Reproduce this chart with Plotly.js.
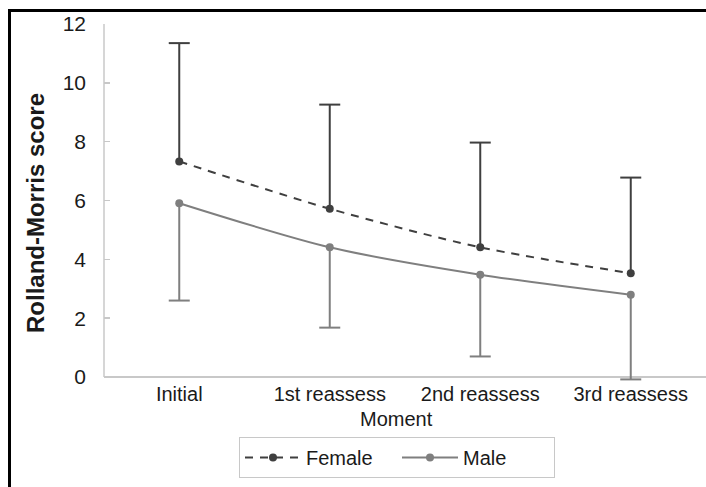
<!DOCTYPE html>
<html>
<head>
<meta charset="utf-8">
<script src="https://cdn.plot.ly/plotly-3.0.1.min.js"></script>
<style>
html,body{margin:0;padding:0;background:#fff;}
#wrap{position:relative;width:706px;height:487px;overflow:hidden;}
#chart{position:absolute;left:0;top:0;width:706px;height:487px;}
#frame{position:absolute;left:8px;top:9px;width:720px;height:500px;border-top:3px solid #000;border-left:3px solid #000;pointer-events:none;}
</style>
</head>
<body>
<div id="wrap"><div id="chart"></div><div id="frame"></div></div>
<script>
const moments = ["Initial", "1st reassess", "2nd reassess", "3rd reassess"];
const femaleMean = [7.33, 5.72, 4.41, 3.53];
const femaleErrUp = [4.02, 3.54, 3.56, 3.25];
const maleMean = [5.91, 4.41, 3.48, 2.80];
const maleErrDown = [3.31, 2.73, 2.78, 2.88];
const yTicks = [0, 2, 4, 6, 8, 10, 12];

const femaleColor = "#3f3f3f";
const maleColor = "#7f7f7f";
const axisColor = "#c8c8c8";
const font = "Liberation Sans, Arial, sans-serif";

const zeros = moments.map(() => 0);
const yMin = -0.1, yMax = 12;

const traces = [
  {
    x: moments, y: femaleMean, name: "Female", type: "scatter", mode: "lines+markers",
    line: {color: femaleColor, width: 2, dash: "8px,7px", shape: "spline", smoothing: 0.8},
    marker: {color: femaleColor, size: 8},
    error_y: {type: "data", symmetric: false, array: femaleErrUp, arrayminus: zeros,
              color: femaleColor, thickness: 2, width: 0},
    cliponaxis: false
  },
  {
    x: moments, y: maleMean, name: "Male", type: "scatter", mode: "lines+markers",
    line: {color: maleColor, width: 2, shape: "spline", smoothing: 0.8},
    marker: {color: maleColor, size: 8},
    error_y: {type: "data", symmetric: false, array: zeros, arrayminus: maleErrDown,
              color: maleColor, thickness: 2, width: 0},
    cliponaxis: false
  },
  {
    x: moments, y: femaleMean.map((v, i) => v + femaleErrUp[i]), type: "scatter", mode: "markers",
    marker: {symbol: "line-ew-open", size: 15, color: femaleColor, line: {color: femaleColor, width: 2}},
    showlegend: false, hoverinfo: "skip", cliponaxis: false
  },
  {
    x: moments, y: maleMean.map((v, i) => v - maleErrDown[i]), type: "scatter", mode: "markers",
    marker: {symbol: "line-ew-open", size: 15, color: maleColor, line: {color: maleColor, width: 2}},
    showlegend: false, hoverinfo: "skip", cliponaxis: false
  }
];

const pxPerUnit = 353 / 12;
const plotH = (yMax - yMin) * pxPerUnit;
const topM = 24;
const botM = 487 - topM - plotH;

function py(pix) { return (topM + plotH - pix) / plotH; }

const layout = {
  width: 706, height: 487,
  margin: {l: 104, r: 0, t: topM, b: botM},
  paper_bgcolor: "#fff", plot_bgcolor: "#fff",
  font: {family: font, size: 20, color: "#1a1a1a"},
  showlegend: true,
  legend: {
    orientation: "h", x: (239 - 104) / 602, xanchor: "left", y: py(437), yanchor: "top",
    bordercolor: axisColor, borderwidth: 1, bgcolor: "#fff",
    font: {family: font, size: 20, color: "#1a1a1a"},
    itemwidth: 56, entrywidth: 86
  },
  xaxis: {
    type: "category", range: [-0.5, 3.5],
    showline: false, showgrid: false, zeroline: false, ticks: "",
    tickfont: {family: font, size: 20, color: "#1a1a1a"}
  },
  yaxis: {
    range: [yMin, yMax], tickvals: yTicks, ticktext: yTicks.map(String),
    showline: false, showgrid: false,
    zeroline: true, zerolinecolor: axisColor, zerolinewidth: 1.5,
    ticks: "inside", ticklen: 6, tickcolor: axisColor, tickwidth: 1.5,
    ticklabelstandoff: 17,
    tickfont: {family: font, size: 21, color: "#1a1a1a"}
  },
  shapes: [
    {type: "line", xref: "paper", yref: "y", x0: 0, x1: 0, y0: 0, y1: yMax,
     line: {color: axisColor, width: 1.5}, layer: "below"},
    {type: "line", xref: "paper", yref: "y", x0: 0, x1: 1, y0: 0, y1: 0,
     line: {color: axisColor, width: 1.5}, layer: "below"}
  ],
  annotations: [
    {text: "Rolland-Morris score", xref: "paper", yref: "paper",
     x: (35 - 104) / 602, y: py(213), xanchor: "center", yanchor: "middle",
     textangle: -90, showarrow: false,
     font: {family: font, size: 24, color: "#1a1a1a", weight: "bold"}},
    {text: "Moment", xref: "paper", yref: "paper",
     x: (396 - 104) / 602, y: py(419), xanchor: "center", yanchor: "middle",
     showarrow: false, font: {family: font, size: 20, color: "#1a1a1a"}}
  ]
};

Plotly.newPlot("chart", traces, layout, {displayModeBar: false, staticPlot: true});
</script>
</body>
</html>
